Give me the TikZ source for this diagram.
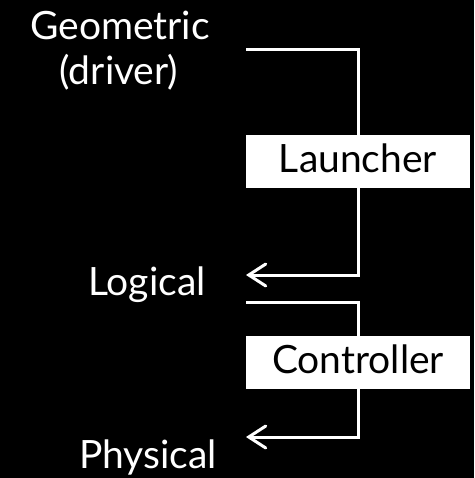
\documentclass[tikz,border=0pt]{standalone}
\usepackage{fontspec}
\setmainfont{Lato}
\usetikzlibrary{arrows.meta}
\begin{document}
\begin{tikzpicture}[x=1pt,y=1pt,
  label/.style={text=white,font=\fontsize{39}{45}\selectfont,inner sep=0pt,align=center},
  stage/.style={fill=white,text=black,font=\fontsize{39}{45}\selectfont,minimum width=224pt,minimum height=53pt,inner sep=0pt,text height=29pt,text depth=7pt},
  wire/.style={white,line width=3pt},
  flow/.style={wire,-{Straight Barb[length=17pt,width=22pt,line width=3pt,line cap=round]}}]
  \fill[black] (0,0) rectangle (474,-478);
  \useasboundingbox (0,0) rectangle (474,-478);
  % level labels
  \node[label,anchor=base] (geo) at (120,-40) {Geometric};
  \node[label,anchor=base] (driver) at (119,-85) {(driver)};
  \node[label,anchor=base] (logical) at (147,-295) {Logical};
  \node[label,anchor=base] (physical) at (148,-468) {Physical};
  % translation stages
  \node[stage] (launcher) at (358,-161.5) {Launcher};
  \node[stage] (controller) at (358,-362.5) {Controller};
  % connector ends
  \coordinate (geoout) at (246,-50);
  \coordinate (login) at (246,-275);
  \coordinate (logout) at (246,-302);
  \coordinate (physin) at (246,-437);
  \draw[wire] (geoout) -| (launcher.north);
  \draw[flow] (launcher.south) |- (login);
  \draw[wire] (logout) -| (controller.north);
  \draw[flow] (controller.south) |- (physin);
\end{tikzpicture}
\end{document}
